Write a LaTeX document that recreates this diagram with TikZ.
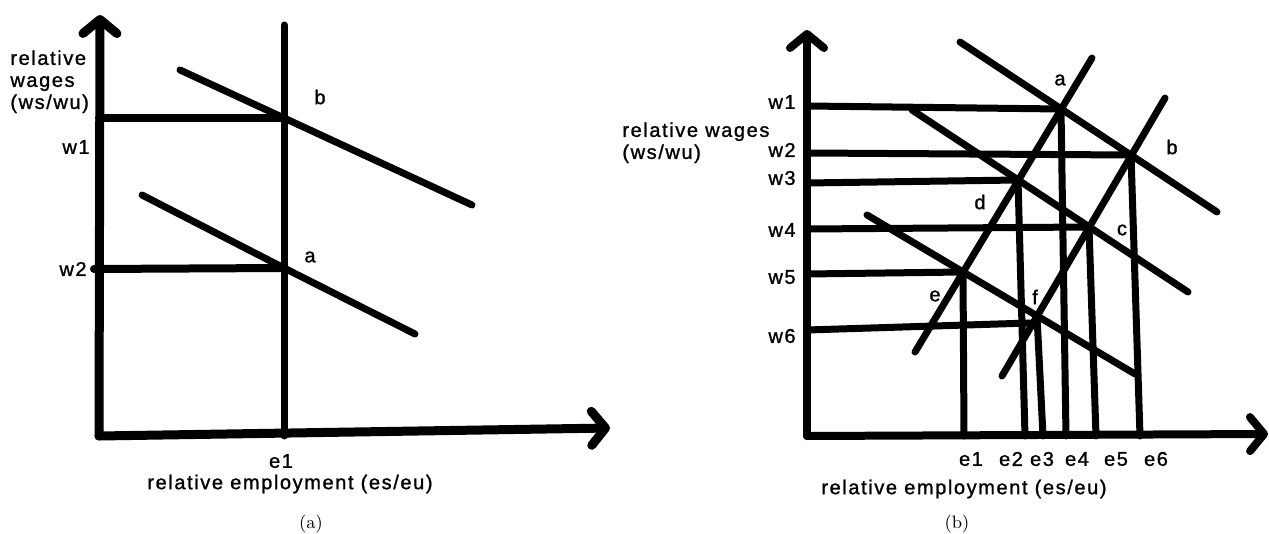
\documentclass[tikz,border=0pt]{standalone}
\usepackage{fontspec}
\newfontfamily\lblfont[LetterSpace=8,FakeBold=1.2]{Liberation Sans}
\usetikzlibrary{arrows.meta}

\begin{document}
\begin{tikzpicture}[x=0.5pt,y=-0.5pt,
      axln/.style={line width=4.5pt,line cap=round,line join=round},
      arr/.style={axln,-{Straight Barb[length=7pt,width=17pt,round]}},
      crv/.style={line width=3.5pt,line cap=round},
      lbl/.style={font=\lblfont\fontsize{10}{11}\selectfont,inner sep=0pt},
      sub/.style={font=\fontsize{9}{10}\selectfont,inner sep=0pt}]
  \useasboundingbox (0,0) rectangle (1269,534);
  % ---- panel (a) ----
  \coordinate (ao) at (99,436);
  \coordinate (pB) at (284,118);
  \coordinate (pA) at (284,268);
  \draw[arr] (ao) -- (100,15);
  \draw[arr] (ao) -- (610,428);
  \draw[crv] (284,25) -- (284,436);
  \draw[crv,line width=4pt] (99,118) -- (pB);
  \draw[crv,line width=4pt] (94,269) -- (pA);
  \draw[crv] (180,70) -- (pB) -- (472,205);
  \draw[crv] (142,195) -- (pA) -- (415,334);
  \node[lbl,align=left,anchor=north west] (aylab) at (10,50) {relative\\wages\\(ws/wu)};
  \node[lbl,anchor=east] (aw1) at (90,147) {w1};
  \node[lbl,anchor=east] (aw2) at (87,269) {w2};
  \node[lbl] (alb) at (320,97) {b};
  \node[lbl] (ala) at (310,257) {a};
  \node[lbl] (ae1) at (281,461) {e1};
  \node[lbl] (axlab) at (290,484) {relative employment (es/eu)};
  \node[sub] (asub) at (311,524) {(a)};
  % ---- panel (b) ----
  \coordinate (bo) at (807,436);
  \coordinate (qa) at (1061,109);
  \coordinate (qb) at (1131,155);
  \coordinate (qc) at (1089,227);
  \coordinate (qd) at (1018,180);
  \coordinate (qe) at (963,272);
  \coordinate (qf) at (1037,316);
  \draw[arr,line width=4pt] (bo) -- (807,30);
  \draw[arr,line width=4pt] (bo) -- (1268,434);
  % wage levels
  \foreach \y/\p in {106/qa,153/qb,183/qd,229/qc,274/qe}
    \draw[crv] (807,\y) -- (\p);
  \draw[crv] (807,330) -- (1030,323);
  % employment levels
  \foreach \p/\x in {qe/964,qd/1025,qf/1043,qa/1066,qc/1096,qb/1140}
    \draw[crv] (\p) -- (\x,436);
  % supply and demand
  \draw[crv] (915,352) -- (1092,58);
  \draw[crv] (1002,376) -- (1165,98);
  \draw[crv] (960,42) -- (1217,212);
  \draw[crv] (912,110) -- (1188,292);
  \draw[crv] (867,215) -- (1135,374);
  \node[lbl,align=left,anchor=north west] (bylab) at (622,122) {relative wages\\(ws/wu)};
  \foreach \y/\t in {102/w1,150/w2,178/w3,230/w4,277/w5,336/w6}
    \node[lbl,anchor=east] (b\t) at (796,\y) {\t};
  \node[lbl] (bla) at (1060,80) {a};
  \node[lbl] (blb) at (1172,147) {b};
  \node[lbl] (blc) at (1122,230) {c};
  \node[lbl] (bld) at (980,202) {d};
  \node[lbl] (ble) at (935,296) {e};
  \node[lbl] (blf) at (1035,297) {f};
  \foreach \x/\t in {971/e1,1011/e2,1042/e3,1077/e4,1116/e5,1156/e6}
    \node[lbl] (b\t) at (\x,459) {\t};
  \node[lbl] (bxlab) at (964,489) {relative employment (es/eu)};
  \node[sub] (bsub) at (957,524) {(b)};
\end{tikzpicture}
\end{document}
